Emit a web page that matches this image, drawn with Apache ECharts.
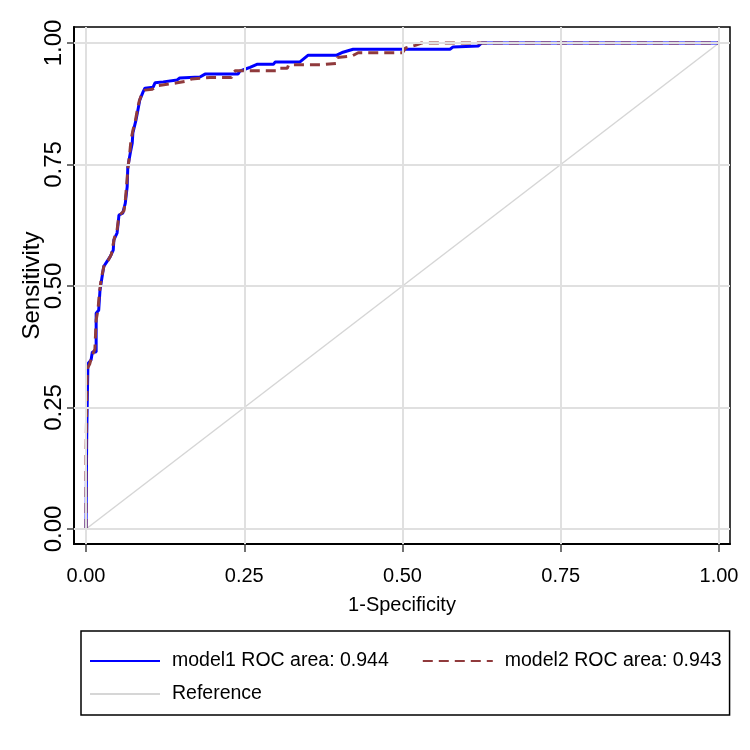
<!DOCTYPE html>
<html>
<head>
<meta charset="utf-8">
<script src="https://cdn.jsdelivr.net/npm/echarts@6/dist/echarts.min.js"></script>
<style>
  body { margin: 0; background: #fff; }
  #chart { width: 750px; height: 750px; }
</style>
</head>
<body>
<div id="chart"></div>
<script>
// ROC curves
const m1Fpr = [0, 0.001, 0.002, 0.003, 0.008, 0.010, 0.016, 0.016, 0.020, 0.022, 0.025, 0.028, 0.033, 0.038, 0.043, 0.044, 0.049, 0.051, 0.052, 0.058, 0.062, 0.065, 0.065, 0.066, 0.070, 0.073, 0.074, 0.079, 0.082, 0.085, 0.090, 0.093, 0.106, 0.109, 0.122, 0.144, 0.148, 0.180, 0.188, 0.240, 0.243, 0.251, 0.259, 0.270, 0.296, 0.299, 0.338, 0.351, 0.396, 0.406, 0.422, 0.575, 0.580, 0.620, 0.625, 1];
const m1Sens = [0, 0.180, 0.265, 0.340, 0.348, 0.364, 0.364, 0.444, 0.450, 0.490, 0.516, 0.540, 0.550, 0.560, 0.574, 0.595, 0.609, 0.632, 0.646, 0.650, 0.670, 0.673, 0.704, 0.745, 0.774, 0.794, 0.815, 0.842, 0.862, 0.883, 0.899, 0.907, 0.909, 0.918, 0.920, 0.924, 0.928, 0.930, 0.936, 0.936, 0.942, 0.946, 0.950, 0.956, 0.956, 0.961, 0.961, 0.975, 0.975, 0.981, 0.987, 0.987, 0.992, 0.994, 1, 1];

const m2Fpr = [0, 0, 0.001, 0.002, 0.006, 0.009, 0.014, 0.016, 0.019, 0.021, 0.024, 0.029, 0.035, 0.040, 0.042, 0.045, 0.049, 0.051, 0.055, 0.060, 0.062, 0.064, 0.066, 0.069, 0.071, 0.074, 0.078, 0.081, 0.084, 0.088, 0.093, 0.105, 0.112, 0.144, 0.160, 0.167, 0.196, 0.230, 0.232, 0.236, 0.300, 0.302, 0.318, 0.320, 0.370, 0.372, 0.395, 0.397, 0.420, 0.430, 0.500, 0.505, 0.520, 0.530, 1];
const m2Sens = [0, 0.150, 0.250, 0.330, 0.340, 0.355, 0.370, 0.430, 0.452, 0.485, 0.515, 0.545, 0.553, 0.565, 0.580, 0.600, 0.615, 0.635, 0.648, 0.655, 0.675, 0.705, 0.740, 0.772, 0.800, 0.820, 0.840, 0.862, 0.880, 0.895, 0.903, 0.905, 0.912, 0.918, 0.922, 0.926, 0.929, 0.929, 0.938, 0.943, 0.943, 0.948, 0.948, 0.955, 0.955, 0.958, 0.958, 0.970, 0.973, 0.980, 0.980, 0.990, 0.995, 1, 1];

const refLine = [[0, 0], [1, 1]];
const ticks = [0, 0.25, 0.5, 0.75, 1];
const names = ["model1 ROC area: 0.944", "model2 ROC area: 0.943", "Reference"];

const font = "'Liberation Sans', Arial, sans-serif";

let myChart = echarts.init(document.getElementById("chart"));

let option = {
  animation: false,
  backgroundColor: "#fff",
  grid: {
    left: 74,
    right: 20,
    top: 27,
    bottom: 206,
    show: true,
    borderColor: "#000",
    borderWidth: 1.5,
    containLabel: false,
    outerBoundsMode: "none"
  },
  xAxis: {
    type: "value",
    // plot region runs a little past 0 and 1, like stata
    min: -0.019,
    max: 1.0174,
    name: "1-Specificity",
    nameLocation: "middle",
    nameGap: 51,
    nameMoveOverlap: false,
    nameTextStyle: { fontSize: 20, fontFamily: font, color: "#000" },
    axisLine: { onZero: false, lineStyle: { color: "#000", width: 2 } },
    axisTick: { customValues: ticks, length: 8, lineStyle: { color: "#444", width: 1.5 } },
    axisLabel: {
      customValues: ticks,
      formatter: v => v.toFixed(2),
      fontSize: 20,
      fontFamily: font,
      color: "#000",
      margin: 22
    },
    splitLine: { show: false }
  },
  yAxis: {
    type: "value",
    min: -0.0309,
    max: 1.0329,
    name: "Sensitivity",
    nameLocation: "middle",
    nameRotate: 90,
    nameGap: 30,
    nameMoveOverlap: false,
    nameTextStyle: { fontSize: 24, fontFamily: font, color: "#000" },
    axisLine: { onZero: false, lineStyle: { color: "#000", width: 2 } },
    axisTick: { customValues: ticks, length: 7, lineStyle: { color: "#444", width: 1.5 } },
    axisLabel: {
      customValues: ticks,
      formatter: v => v.toFixed(2),
      rotate: 90,
      fontSize: 24,
      fontFamily: font,
      color: "#000",
      margin: 8
    },
    splitLine: { show: false }
  },
  legend: {
    data: names,
    left: 81,
    top: 631,
    width: 660,
    orient: "horizontal",
    selectedMode: false,
    itemWidth: 70,
    itemHeight: 14,
    itemGap: 13,
    // right side pulled in so the last text padding does not widen the box
    padding: [20, -12, 11, 8],
    borderColor: "#000",
    borderWidth: 1.5,
    itemStyle: { opacity: 0 },
    textStyle: {
      fontSize: 19.5,
      fontFamily: font,
      color: "#000",
      lineHeight: 14,
      padding: [0, 20, 0, 7]
    }
  },
  series: [
    {
      name: names[2],
      type: "line",
      z: 1,
      symbol: "none",
      silent: true,
      data: refLine,
      lineStyle: { color: "#d6d6d6", width: 1.5 },
      itemStyle: { color: "#d6d6d6" },
      // grid lines across the whole plot region
      markLine: {
        silent: true,
        symbol: "none",
        label: { show: false },
        lineStyle: { color: "#e0e0e0", width: 2, type: "solid" },
        data: ticks.map(v => ({ xAxis: v })).concat(ticks.map(v => ({ yAxis: v })))
      }
    },
    {
      name: names[0],
      type: "line",
      z: 3,
      symbol: "none",
      data: m1Fpr.map((x, i) => [x, m1Sens[i]]),
      lineStyle: { color: "#0000ff", width: 3 },
      itemStyle: { color: "#0000ff" }
    },
    {
      name: names[1],
      type: "line",
      z: 4,
      symbol: "none",
      data: m2Fpr.map((x, i) => [x, m2Sens[i]]),
      lineStyle: { color: "#903a3c", width: 3, type: [10, 6] },
      itemStyle: { color: "#903a3c" }
    }
  ]
};

myChart.setOption(option, true);
</script>
</body>
</html>
